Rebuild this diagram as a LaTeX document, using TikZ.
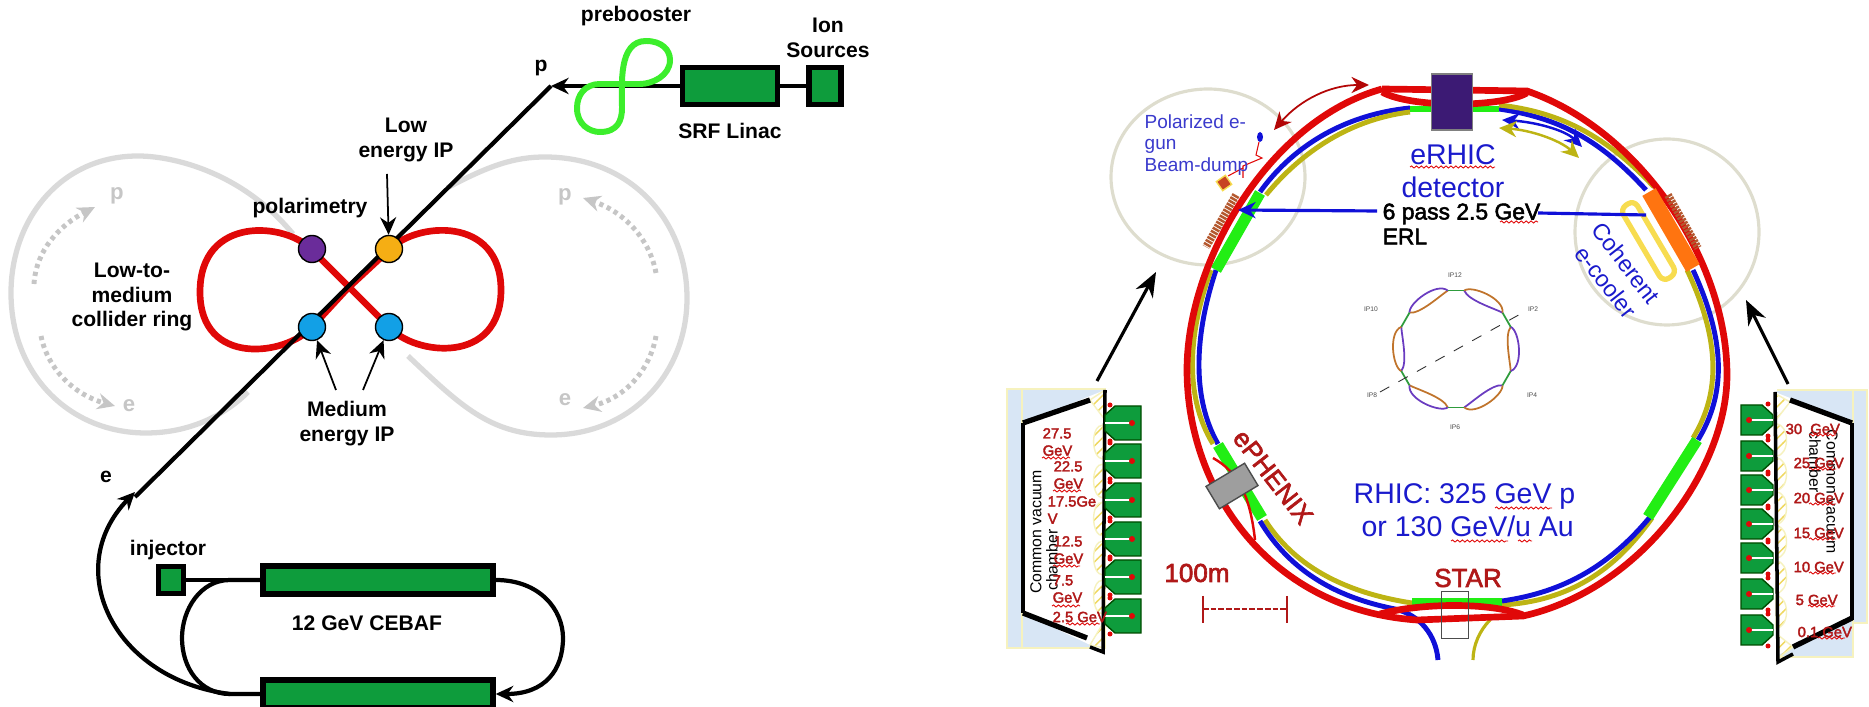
\documentclass[tikz,border=0pt]{standalone}
\usepackage{fontspec}
\setmainfont{Liberation Sans}
\newfontfamily\heavyfont[FakeBold=2.4]{Liberation Sans}
\usepackage{tikz}
\usetikzlibrary{positioning,arrows.meta,patterns,decorations.pathmorphing}
\usepackage{xcolor}

\definecolor{magnetgreen}{HTML}{0E9C3C}
\definecolor{boosterlime}{HTML}{3CEE2C}
\definecolor{ghostgrey}{HTML}{DADADA}
\definecolor{flowgrey}{HTML}{C6C6C6}
\definecolor{ringred}{HTML}{E00808}
\definecolor{dotpurple}{HTML}{6A2C9A}
\definecolor{dotorange}{HTML}{F5AE14}
\definecolor{dotblue}{HTML}{12A0E6}
\definecolor{beamblue}{HTML}{1010D8}
\definecolor{beamolive}{HTML}{BDB414}
\definecolor{straightgreen}{HTML}{22EE14}
\definecolor{textblue}{HTML}{1A1ACC}
\definecolor{gunblue}{HTML}{3A3ACC}
\definecolor{labelred}{HTML}{B01818}
\definecolor{haloline}{HTML}{DEDDCE}
\definecolor{coolyellow}{HTML}{F7DC50}
\definecolor{coolorange}{HTML}{FF7410}
\definecolor{coilbrown}{HTML}{B4582E}
\definecolor{vacblue}{HTML}{D8E6F5}
\definecolor{vacedge}{HTML}{F6F2BE}
\definecolor{hatchyellow}{HTML}{EFD860}
\definecolor{detpurple}{HTML}{3C1A74}
\definecolor{smallpurple}{HTML}{6A3CC0}
\definecolor{smallorange}{HTML}{C0742C}
\definecolor{smallgreen}{HTML}{2E9C3C}

\begin{document}
\begin{tikzpicture}[
    x=0.01cm, y=-0.01cm,
    magnet/.style={draw=black, line width=1.5pt, fill=magnetgreen, inner sep=0},
    lbl/.style={font=\fontsize{6}{7.1}\selectfont\bfseries, align=center, inner sep=0},
    ipdot/.style={circle, draw=black, line width=.4pt, minimum size=2.7mm, inner sep=0},
    beam/.style={draw=black, line width=1.2pt},
    thinarrow/.style={->, draw=black, line width=.5pt},
    ghost/.style={draw=ghostgrey, line width=1.5pt},
    flow/.style={->, draw=flowgrey, line width=1.4pt, dash pattern=on 1.2pt off 1.1pt},
    ghostlbl/.style={font=\fontsize{6.3}{7}\selectfont\bfseries, text=flowgrey, inner sep=0},
    redring/.style={draw=ringred, line width=1.9pt},
    bluering/.style={draw=beamblue, line width=1.4pt},
    olivering/.style={draw=beamolive, line width=1.4pt},
    straight/.style={draw=straightgreen, line width=3.2pt},
    halo/.style={draw=haloline, line width=.9pt},
    coil/.style={draw=coilbrown, line width=2.2pt, dash pattern=on .7pt off .3pt},
    bluetxt/.style={font=\fontsize{8.1}{9.4}\selectfont, text=textblue, align=center, inner sep=0},
    redtxt/.style={font=\fontsize{7.4}{8}\selectfont\heavyfont, text=labelred, inner sep=0},
    gevtxt/.style={font=\fontsize{4.2}{4.9}\selectfont\heavyfont, text=labelred, align=left, anchor=west, inner sep=0},
    vactxt/.style={font=\fontsize{4.5}{5}\selectfont, inner sep=0},
    iptxt/.style={font=\fontsize{1.9}{2}\selectfont, text=black!70, inner sep=0},
    spell/.style={draw=ringred, line width=.25pt, decorate, decoration={snake, amplitude=.3pt, segment length=1.4pt}},
    block/.style={draw=black!70!green, line width=.4pt, fill=magnetgreen},
    hatch/.style={pattern=north east lines, pattern color=hatchyellow},
    >={Stealth[length=5pt, width=4.6pt]}
]
\useasboundingbox (0,0) rectangle (1869,707);

% ----- Ghost rings -----
\draw[ghost] (293,234) .. controls (240,170) and (170,156) .. (138,156) .. controls (60,156) and (11,220) .. (11,293) .. controls (11,375) and (70,433) .. (146,433) .. controls (190,433) and (225,415) .. (248,392);
\draw[ghost] (447,188) .. controls (490,165) and (515,157) .. (545,157) .. controls (630,157) and (687,220) .. (687,298) .. controls (687,375) and (630,435) .. (551,435) .. controls (490,435) and (460,405) .. (408,356);
\draw[flow] (34,284) .. controls (36,250) and (60,225) .. (95,207);
\draw[flow] (41,336) .. controls (48,370) and (75,395) .. (115,406);
\draw[flow] (656,273) .. controls (650,240) and (625,212) .. (583,198);
\draw[flow] (656,336) .. controls (650,370) and (625,398) .. (583,408);
\node[ghostlbl] (gp1) at (117,196) {p};
\node[ghostlbl] (ge1) at (129,406) {e};
\node[ghostlbl] (gp2) at (565,197) {p};
\node[ghostlbl] (ge2) at (565,400) {e};

% ----- Collider ring -----
\draw[redring] (347,289) -- (389,250) .. controls (415,222) and (501,215) .. (501,290) .. controls (501,365) and (415,356) .. (389,327) -- (312,250) .. controls (286,222) and (200,215) .. (200,292) .. controls (200,367) and (286,356) .. (312,327) -- cycle;
\draw[beam] (135,497) -- (551,86);

\node[ipdot, fill=dotpurple] (polar) at (312,249) {};
\node[ipdot, fill=dotorange] (lowip) at (389,249) {};
\node[ipdot, fill=dotblue] (medipa) at (312,327) {};
\node[ipdot, fill=dotblue] (medipb) at (389,327) {};

\node[lbl] (lowlbl) at (406,140) {Low\\energy IP};
\node[lbl] (polarlbl) at (310,208) {polarimetry};
\node[lbl] (collabel) at (132,297) {Low-to-\\medium\\collider ring};
\node[lbl] (medlbl) at (347,424) {Medium\\energy IP};
\coordinate (lowstart) at (387,174);
\coordinate (medstarta) at (336,390);
\coordinate (medstartb) at (363,390);
\draw[thinarrow] (lowstart) -- (lowip);
\draw[thinarrow] (medstarta) -- (medipa);
\draw[thinarrow] (medstartb) -- (medipb);

% ----- Ion source side -----
\node[magnet, minimum width=.95cm, minimum height=.37cm] (srf) at (730,86) {};
\node[magnet, minimum width=.32cm, minimum height=.37cm] (ion) at (825,86) {};
\draw[beam] (ion) -- (srf);
\coordinate (papex) at (551,86);
\draw[beam, ->] (srf) -- (papex);
\draw[draw=boosterlime, line width=1.7pt] (622,108) .. controls (622,85) and (618,41) .. (646,41) .. controls (662,41) and (670,50) .. (670,60) .. controls (670,76) and (652,84) .. (640,84) -- (600,84) .. controls (585,84) and (577,95) .. (577,108) .. controls (577,125) and (590,132) .. (600,132) .. controls (618,132) and (622,120) .. (622,108) -- cycle;
\node[lbl] (boostlbl) at (636,16) {prebooster};
\node[lbl] (ionlbl) at (828,38) {Ion\\Sources};
\node[lbl] (srflbl) at (730,131) {SRF Linac};
\node[lbl] (plbl) at (541,68) {p};

% ----- CEBAF side -----
\node[magnet, minimum width=.25cm, minimum height=.27cm] (inj) at (171,580) {};
\node[magnet, minimum width=2.3cm, minimum height=.28cm] (ltop) at (378,580) {};
\node[magnet, minimum width=2.3cm, minimum height=.28cm] (lbot) at (378,694) {};
\draw[beam] (inj) -- (ltop);
\coordinate (bendin) at (230,694);
\coordinate (bendout) at (135,492);
\draw[beam, ->] (ltop.east) .. controls (540,580) and (563,610) .. (563,638) .. controls (563,670) and (545,694) .. (lbot.east);
\draw[beam] (ltop.west) -- (230,580) .. controls (200,580) and (182,610) .. (182,638) .. controls (182,668) and (200,694) .. (bendin) -- (lbot.west);
\draw[beam, ->] (bendin) .. controls (115,680) and (60,570) .. (bendout);
\node[lbl] (inlbl) at (168,550) {injector};
\node[lbl] (cebaflbl) at (367,623) {12 GeV CEBAF};
\node[lbl] (elbl) at (106,477) {e};

% ----- Zoom circles -----
\draw[halo] (1208,177) ellipse [x radius=97, y radius=88];
\draw[halo] (1667,232) ellipse [x radius=92, y radius=93];

% ----- Blue and olive beams -----
\draw[bluering] (1410,108) .. controls (1340,115) and (1290,150) .. (1260,192);
\draw[olivering] (1410,112) .. controls (1345,120) and (1297,157) .. (1266,195);
\draw[bluering] (1216,270) .. controls (1196,330) and (1190,395) .. (1218,444);
\draw[olivering] (1211,270) .. controls (1189,330) and (1183,395) .. (1213,444);
\draw[olivering] (1265,520) .. controls (1300,575) and (1360,595) .. (1412,603);
\draw[bluering] (1260,521) .. controls (1295,580) and (1350,600) .. (1395,609) .. controls (1420,615) and (1436,635) .. (1438,660);
\draw[olivering] (1502,605) .. controls (1570,601) and (1615,570) .. (1652,518);
\draw[bluering] (1502,601) .. controls (1565,592) and (1610,565) .. (1650,517);
\draw[olivering] (1693,438) .. controls (1716,400) and (1725,350) .. (1687,270);
\draw[bluering] (1698,440) .. controls (1722,400) and (1730,350) .. (1693,270);
\draw[bluering] (1646,190) .. controls (1600,140) and (1560,118) .. (1499,109);
\draw[olivering] (1654,187) .. controls (1605,135) and (1560,112) .. (1499,105);
\draw[draw=beamolive, line width=.9pt] (1490,620) .. controls (1480,630) and (1473,645) .. (1473,660);

% ----- Straight sections -----
\draw[straight] (1260,193) -- (1216,270);
\draw[straight] (1218,445) -- (1262,518);
\draw[straight] (1648,517) -- (1697,440);
\draw[straight, line width=2pt] (1412,602) -- (1502,602);
\draw[straight, line width=1.8pt] (1410,109) -- (1499,109);

% ----- Red ring -----
\draw[redring] (1382,89) -- (1527,91) .. controls (1640,130) and (1727,260) .. (1727,375) .. controls (1727,470) and (1640,590) .. (1523,616) -- (1417,620) .. controls (1270,610) and (1187,490) .. (1187,370) .. controls (1187,260) and (1270,120) .. (1382,89);
\draw[redring] (1382,92) .. controls (1410,108) and (1500,108) .. (1527,93);
\draw[redring] (1380,614) .. controls (1420,603) and (1490,602) .. (1523,615);
\draw[draw=ringred, line width=.7pt] (1213,458) .. controls (1238,472) and (1250,495) .. (1255,540);

% ----- Detectors -----
\node[draw=black!50, fill=detpurple, minimum width=.41cm, minimum height=.56cm, inner sep=0] (erhicdet) at (1452,102) {};
\node[draw=black!70, line width=.4pt, minimum width=.27cm, minimum height=.47cm, inner sep=0] (stardet) at (1455,615) {};
\node[draw=black!70, fill=black!38, line width=.4pt, minimum width=.45cm, minimum height=.26cm, inner sep=0, rotate=31] (phenixdet) at (1232,486) {};

% ----- Cooler and coils -----
\draw[draw=coolorange, line width=4.4pt] (1649,192) -- (1693,268);
\draw[draw=coolyellow, line width=1.5pt, rounded corners=2pt] (1634,200) -- (1620,209) -- (1663,282) -- (1677,273) -- cycle;
\draw[coil] (1236,195) -- (1206,247);
\draw[coil] (1668,195) -- (1698,248);

% ----- ERL line -----
\node[font=\fontsize{6.5}{7.1}\selectfont\heavyfont, align=left, anchor=west, inner sep=0] (erllbl) at (1382,224) {6 pass 2.5 GeV\\ERL};
\coordinate (erlmida) at (1377,211);
\coordinate (erlmidb) at (1538,213);
\coordinate (erlleft) at (1238,210);
\coordinate (erlright) at (1646,215);
\draw[->, draw=beamblue, line width=.9pt] (erlmida) -- (erlleft);
\draw[draw=beamblue, line width=.9pt] (erlmidb) -- (erlright);

% ----- Gun region -----
\draw[<->, draw=ringred!80!black, line width=.5pt] (1274,130) .. controls (1300,100) and (1330,85) .. (1369,85);
\draw[<->, draw=beamblue, line width=.7pt] (1502,120) .. controls (1535,122) and (1565,130) .. (1582,147);
\draw[<->, draw=beamolive, line width=.7pt] (1499,128) .. controls (1530,130) and (1560,140) .. (1579,158);
\fill[beamblue] (1260,137) ellipse [x radius=3, y radius=5];
\draw[draw=ringred, line width=.3pt] (1259,142) -- (1256,155) -- (1262,158) -- (1243,166) -- (1243,178);
\draw[draw=ringred, line width=.3pt] (1243,168) -- (1228,176);
\node[draw=coolyellow, fill=coilbrown!75!red, line width=.4pt, minimum size=.11cm, inner sep=0, rotate=35] (dump) at (1224,183) {};
\node[font=\fontsize{5.4}{6.1}\selectfont, text=gunblue, align=left, anchor=west, inner sep=0] (gunlbl) at (1144,145) {Polarized e-\\gun\\Beam-dump};

% ----- Ring labels -----
\node[bluetxt] (erhiclbl) at (1453,171) {eRHIC\\detector};
\node[bluetxt, align=left, anchor=west] (rhiclbl) at (1353,510) {RHIC: 325 GeV p\\\ or 130 GeV/u Au};
\node[font=\fontsize{6.6}{7.4}\selectfont, text=textblue, inner sep=0, rotate=-52] (cohlbl) at (1626,263) {Coherent};
\node[font=\fontsize{6.6}{7.4}\selectfont, text=textblue, inner sep=0, rotate=-52] (ecoollbl) at (1606,282) {e-cooler};
\node[redtxt, rotate=-52] (phenixlbl) at (1273,477) {ePHENIX};
\node[redtxt] (starlbl) at (1468,578) {STAR};
\node[redtxt] (scalelbl) at (1197,573) {100m};

% ----- Scale bar -----
\coordinate (barl) at (1203,609);
\coordinate (barr) at (1287,609);
\draw[draw=labelred, line width=.7pt] (1203,596) -- (1203,623);
\draw[draw=labelred, line width=.7pt] (1287,596) -- (1287,623);
\draw[draw=labelred, line width=.7pt, dash pattern=on 1.6pt off .6pt] (barl) -- (barr);

% ----- Small ring -----
\begin{scope}[shift={(1456,349)}]
\foreach \a/\outc/\innc in {210/smallpurple/smallorange, 150/smallorange/smallpurple, 90/smallpurple/smallorange, 30/smallorange/smallpurple, -30/smallpurple/smallorange, 270/smallorange/smallpurple}{
    \draw[\innc, line width=.5pt] (\a+8:59) .. controls (\a+14:50) and (\a+44:56) .. (\a+52:59);
    \draw[\outc, line width=.5pt] (\a+8:59) .. controls (\a+14:66) and (\a+44:70) .. (\a+52:59);
    \draw[smallgreen, line width=.5pt] (\a-8:59) -- (\a+8:59);
}
\end{scope}
\coordinate (ipa) at (1380,392);
\coordinate (ipb) at (1524,312);
\draw[dashed, line width=.25pt, draw=black!80] (ipa) -- (ipb);
\foreach \i/\xx/\yy in {12/1455/275, 10/1371/309, 2/1533/309, 8/1372/395, 4/1532/395, 6/1455/427}{
    \node[iptxt] (ip\i) at (\xx,\yy) {IP\i};
}

% ----- Left panel -----
\fill[vacblue] (1007,389) rectangle (1105,648);
\draw[vacedge, line width=.6pt] (1007,389) rectangle (1105,648);
\draw[vacedge, line width=.6pt] (1022,389) -- (1022,648);
\fill[white] (1023,423) -- (1105,390) -- (1105,652) -- (1023,613) -- cycle;
\draw[hatch, draw=vacedge] (1090,400) -- (1105,390) -- (1105,420) -- cycle;
\draw[hatch, draw=vacedge] (1090,645) -- (1105,620) -- (1105,648) -- cycle;
\foreach \yy in {442,481,519,558,597}{
    \draw[hatch, draw=vacedge] (1103,\yy-17) .. controls (1090,\yy-17) and (1091,\yy+17) .. (1103,\yy+17) -- cycle;
}
\draw[draw=black, line width=1.5pt] (1090,400) -- (1023,423);
\draw[draw=black, line width=1.1pt] (1023,423) -- (1023,613);
\draw[draw=black, line width=1.5pt] (1023,613) -- (1087,638);
\draw[draw=black, line width=1pt] (1105,390) -- (1103,652) -- (1090,647);
\foreach \yy in {423,461,500,539,577,616}{
    \draw[block] (1105,\yy-8) -- (1115,\yy-17) -- (1141,\yy-17) -- (1141,\yy+17) -- (1115,\yy+17) -- (1105,\yy+8) -- cycle;
    \draw[white, line width=.8pt] (1105,\yy) -- (1132,\yy);
    \fill[ringred] (1132,\yy) circle [radius=3];
    \fill[ringred] (1110,\yy-18) circle [radius=2.5];
    \fill[ringred] (1110,\yy+18) circle [radius=2.5];
}
\node[vactxt, rotate=90] (vacl) at (1036,532) {Common vacuum};
\node[vactxt, rotate=90] (chaml) at (1052,560) {chamber};
\foreach \i/\xx/\yy/\txt in {a/1042/442/27.5\\GeV, b/1053/475/22.5\\GeV, c/1047/510/17.5Ge\\V, d/1053/550/12.5\\GeV, e/1052/589/7.5\\GeV, f/1052/617/2.5 GeV}{
    \node[gevtxt] (lgev\i) at (\xx,\yy) {\txt};
}

% ----- Right panel -----
\fill[vacblue] (1777,390) rectangle (1853,657);
\fill[vacblue] (1853,390) rectangle (1867,623);
\draw[vacedge, line width=.6pt] (1777,390) -- (1867,390) -- (1867,623) -- (1853,623);
\draw[vacedge, line width=.6pt] (1853,390) -- (1853,657) -- (1777,657);
\fill[white] (1775,392) -- (1852,423) -- (1852,618) -- (1778,655) -- cycle;
\draw[hatch, draw=vacedge] (1776,394) -- (1790,402) -- (1776,420) -- cycle;
\draw[hatch, draw=vacedge] (1778,635) -- (1793,647) -- (1778,658) -- cycle;
\foreach \yy in {440,474,508,542,577,612}{
    \draw[hatch, draw=vacedge] (1776,\yy-16) .. controls (1790,\yy-16) and (1790,\yy+16) .. (1776,\yy+16) -- cycle;
}
\draw[draw=black, line width=1.5pt] (1790,400) -- (1852,423);
\draw[draw=black, line width=1.1pt] (1852,423) -- (1852,620);
\draw[draw=black, line width=1.5pt] (1852,618) -- (1793,647);
\draw[draw=black, line width=1pt] (1775,392) -- (1778,662) -- (1793,654);
\foreach \yy in {420,456,490,524,558,594,630}{
    \draw[block] (1741,\yy-15) -- (1762,\yy-15) -- (1773,\yy-5) -- (1773,\yy+5) -- (1762,\yy+15) -- (1741,\yy+15) -- cycle;
    \draw[white, line width=.8pt] (1749,\yy) -- (1773,\yy);
    \fill[ringred] (1749,\yy) circle [radius=3];
    \fill[ringred] (1768,\yy-16) circle [radius=2.5];
    \fill[ringred] (1768,\yy+16) circle [radius=2.5];
}
\node[vactxt, rotate=-90] (vacr) at (1832,492) {Common vacuum};
\node[vactxt, rotate=-90] (chamr) at (1815,462) {chamber};
\foreach \i/\xx/\yy/\txt in {a/1785/429/30\ \ GeV, b/1793/463/25 GeV, c/1793/498/20 GeV, d/1793/533/15 GeV, e/1793/567/10 GeV, f/1795/600/5 GeV, g/1797/632/0.1 GeV}{
    \node[gevtxt] (rgev\i) at (\xx,\yy) {\txt};
}

% ----- Pointer arrows -----
\coordinate (ptrla) at (1097,381);
\coordinate (ptrlb) at (1156,272);
\coordinate (ptrra) at (1788,384);
\coordinate (ptrrb) at (1746,300);
\draw[->, draw=black, line width=.9pt, >={Stealth[length=7pt, width=5.5pt]}] (ptrla) -- (ptrlb);
\draw[->, draw=black, line width=.9pt, >={Stealth[length=7pt, width=5.5pt]}] (ptrra) -- (ptrrb);

% ----- Spell marks -----
\foreach \xa/\xb/\yy in {1410/1495/167, 1500/1538/222, 1495/1552/508, 1451/1508/541, 1518/1532/541, 1042/1070/458, 1053/1081/491, 1053/1080/566, 1052/1080/606, 1066/1100/624, 1809/1836/435, 1809/1836/469, 1809/1836/504, 1809/1836/539, 1809/1836/573, 1808/1835/606, 1818/1845/638}{
    \draw[spell] (\xa,\yy) -- (\xb,\yy);
}

\end{tikzpicture}
\end{document}
